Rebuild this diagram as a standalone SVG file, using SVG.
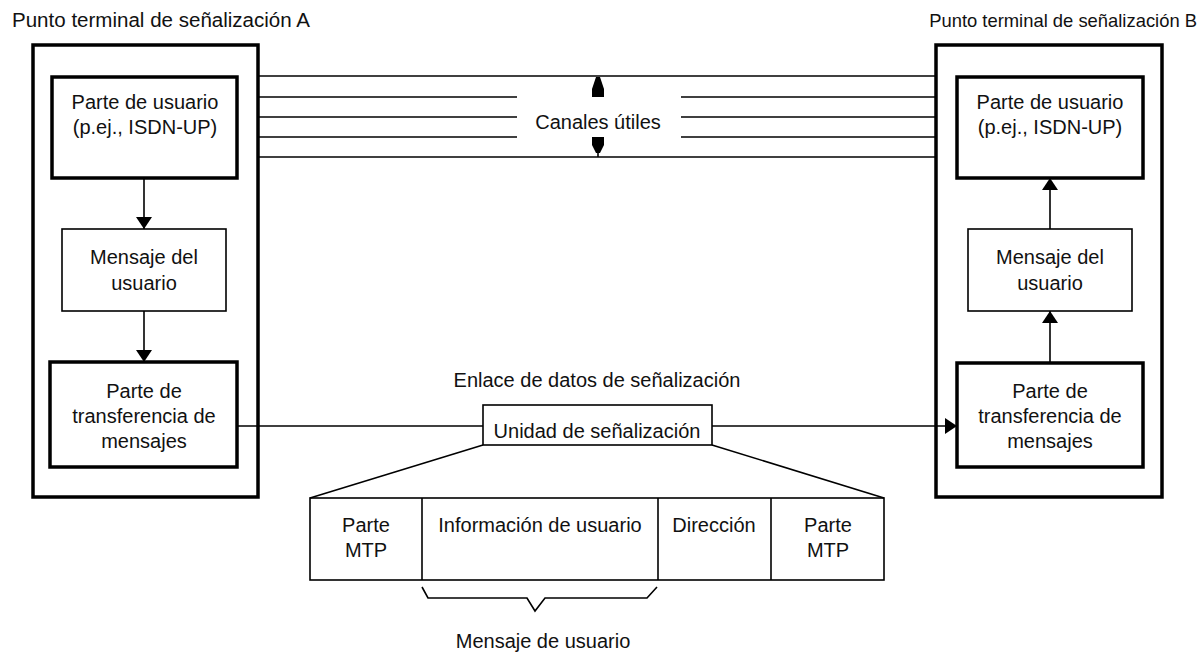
<svg xmlns="http://www.w3.org/2000/svg" width="1204" height="656" viewBox="0 0 1204 656">
  <defs>
    <style>
      text { font-family: "Liberation Sans", Arial, sans-serif; font-size: 20px; fill: #111; text-anchor: middle; }
      .title { text-anchor: start; }
      .title-b { text-anchor: end; font-size: 18.4px; }
      .thick { fill: #fff; stroke: #000; stroke-width: 3.5; }
      .thin { fill: #fff; stroke: #000; stroke-width: 1.6; }
      .wire { fill: none; stroke: #000; stroke-width: 1.6; }
      .head { fill: #000; stroke: none; }
    </style>
    <marker id="arrow" viewBox="0 0 12 16" refX="12" refY="8" markerWidth="12" markerHeight="16" markerUnits="userSpaceOnUse" orient="auto">
      <path d="M0,0 L12,8 L0,16 Z" fill="#000"/>
    </marker>
  </defs>

  <rect width="1204" height="656" fill="#fff"/>

  <!-- Endpoint titles -->
  <text class="title" x="12" y="27" textLength="298" lengthAdjust="spacingAndGlyphs">Punto terminal de señalización A</text>
  <text class="title-b" x="1197" y="27">Punto terminal de señalización B</text>

  <!-- Endpoint A -->
  <g id="endpoint-a">
    <rect class="thick" x="33" y="45" width="225" height="452"/>
  </g>
  <g id="user-part-a">
    <rect class="thick" x="52" y="77" width="185" height="101"/>
    <text x="145" y="109">Parte de usuario</text>
    <text x="145" y="134">(p.ej., ISDN-UP)</text>
  </g>
  <g id="user-message-a">
    <rect class="thin" x="62" y="229" width="164" height="82"/>
    <text x="144" y="264">Mensaje del</text>
    <text x="144" y="290">usuario</text>
  </g>
  <g id="mtp-a">
    <rect class="thick" x="50" y="362" width="187" height="105"/>
    <text x="144" y="398">Parte de</text>
    <text x="144" y="423">transferencia de</text>
    <text x="144" y="448">mensajes</text>
  </g>

  <!-- Endpoint B -->
  <g id="endpoint-b">
    <rect class="thick" x="936" y="45" width="226" height="452"/>
  </g>
  <g id="user-part-b">
    <rect class="thick" x="957" y="77" width="186" height="101"/>
    <text x="1050" y="109">Parte de usuario</text>
    <text x="1050" y="134">(p.ej., ISDN-UP)</text>
  </g>
  <g id="user-message-b">
    <rect class="thin" x="968" y="229" width="164" height="82"/>
    <text x="1050" y="264">Mensaje del</text>
    <text x="1050" y="290">usuario</text>
  </g>
  <g id="mtp-b">
    <rect class="thick" x="957" y="363" width="186" height="104"/>
    <text x="1050" y="398">Parte de</text>
    <text x="1050" y="423">transferencia de</text>
    <text x="1050" y="448">mensajes</text>
  </g>

  <!-- Signalling unit on the data link -->
  <g id="signalling-unit">
    <text x="597" y="387">Enlace de datos de señalización</text>
    <rect class="thin" x="483" y="405" width="229" height="40"/>
    <text x="597" y="438">Unidad de señalización</text>
  </g>

  <!-- Signalling unit structure -->
  <g id="unit-format">
    <rect class="thin" x="310" y="498" width="574" height="82"/>
    <line class="wire" x1="422" y1="498" x2="422" y2="580"/>
    <line class="wire" x1="658" y1="498" x2="658" y2="580"/>
    <line class="wire" x1="771" y1="498" x2="771" y2="580"/>
    <text x="366" y="532">Parte</text>
    <text x="366" y="557">MTP</text>
    <text x="540" y="532">Información de usuario</text>
    <text x="714" y="532">Dirección</text>
    <text x="828" y="532">Parte</text>
    <text x="828" y="557">MTP</text>
  </g>

  <g id="user-message-brace">
    <path class="wire" d="M422,587 L428,598 L527,598 L535,611 L545,598 L647,598 L657,587"/>
    <text x="543" y="648">Mensaje de usuario</text>
  </g>

  <g id="bearer-channels">
    <text x="598" y="129">Canales útiles</text>
  </g>

  <!-- Connectors -->
  <g id="connectors">
    <!-- bearer channels between the endpoints -->
    <line class="wire" x1="258" y1="76" x2="936" y2="76"/>
    <line class="wire" x1="258" y1="97" x2="517" y2="97"/>
    <line class="wire" x1="681" y1="97" x2="936" y2="97"/>
    <line class="wire" x1="258" y1="117" x2="517" y2="117"/>
    <line class="wire" x1="681" y1="117" x2="936" y2="117"/>
    <line class="wire" x1="258" y1="137" x2="517" y2="137"/>
    <line class="wire" x1="681" y1="137" x2="936" y2="137"/>
    <line class="wire" x1="258" y1="157" x2="936" y2="157"/>
    <path class="head" d="M596,77 L600,77 L604,89 L604,97 L592,97 L592,89 Z"/>
    <path class="head" d="M592,137 L604,137 L604,145 L600,153 L596,153 L592,145 Z"/>
    <line class="wire" x1="598" y1="152" x2="598" y2="157"/>

    <!-- endpoint A: down the stack -->
    <line class="wire" x1="144" y1="178" x2="144" y2="229" marker-end="url(#arrow)"/>
    <line class="wire" x1="144" y1="311" x2="144" y2="362" marker-end="url(#arrow)"/>

    <!-- endpoint B: up the stack -->
    <line class="wire" x1="1050" y1="363" x2="1050" y2="311" marker-end="url(#arrow)"/>
    <line class="wire" x1="1050" y1="229" x2="1050" y2="178" marker-end="url(#arrow)"/>

    <!-- signalling data link -->
    <line class="wire" x1="237" y1="426" x2="483" y2="426"/>
    <line class="wire" x1="712" y1="426" x2="957" y2="426" marker-end="url(#arrow)"/>

    <!-- expansion of the signalling unit -->
    <line class="wire" x1="483" y1="445" x2="310" y2="498"/>
    <line class="wire" x1="712" y1="445" x2="884" y2="498"/>
  </g>
</svg>
